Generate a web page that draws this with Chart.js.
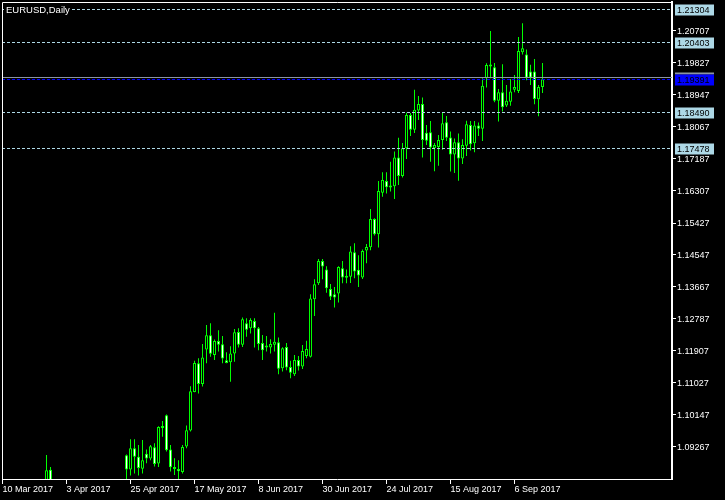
<!DOCTYPE html>
<html>
<head>
<meta charset="utf-8">
<title>EURUSD,Daily</title>
<script src="https://cdn.jsdelivr.net/npm/chart.js@4.4.1/dist/chart.umd.min.js"></script>
<style>
  html, body { margin: 0; padding: 0; background: #000; }
  #grafico { display: block; }
</style>
</head>
<body>
<canvas id="grafico" width="725" height="500"></canvas>
<script>
const simbolo = 'EURUSD,Daily';

// barras diárias, índice 0 = 10 Mar 2017 (null = fora da escala visível)
const abertura = [
  null, null, null, null, null, null, null, null, null, null, null,
  1.0810, 1.0864,
  null, null, null, null, null, null, null, null, null, null, null, null, null, null, null, null, null, null,
  1.0904, 1.0865, 1.0923, 1.0900, 1.0867,
  1.0908, 1.0895, 1.0926, 1.0881, 1.0984,
  1.1014, 1.0920, 1.0871, 1.0866, 1.0858,
  1.0928, 1.0972, 1.1078, 1.1157, 1.1100,
  1.1195, 1.1234, 1.1180, 1.1218, 1.1209,
  1.1165, 1.1160, 1.1184, 1.1243, 1.1208,
  1.1267, 1.1253, 1.1273, 1.1253, 1.1213,
  1.1204, 1.1200, 1.1208, 1.1215, 1.1143,
  1.1202, 1.1147, 1.1127, 1.1166, 1.1148,
  1.1177, 1.1175, 1.1333, 1.1377, 1.1438,
  1.1415, 1.1361, 1.1347, 1.1349, 1.1418,
  1.1397, 1.1395, 1.1462, 1.1414, 1.1393,
  1.1467, 1.1476, 1.1554, 1.1512, 1.1626,
  1.1658, 1.1643, 1.1644, 1.1723, 1.1672,
  1.1748, 1.1840, 1.1799, 1.1852, 1.1870,
  1.1791, 1.1792, 1.1748, 1.1752, 1.1771,
  1.1820, 1.1778, 1.1731, 1.1765, 1.1720,
  1.1755, 1.1812, 1.1762, 1.1811, 1.1802,
  1.1941, 1.1978, 1.1971, 1.1879, 1.1902,
  1.1866, 1.1876, 1.1909, 1.1906, 1.2012,
  1.2006, 1.1959, 1.1959, 1.1883, 1.1917
];
const maxima = [
  null, null, null, null, null, null, null, null, null, null, null,
  1.0905, 1.0872,
  null, null, null, null, null, null, null, null, null, null, null, null, null, null, null, null, null, null,
  1.0906, 1.0948, 1.0948, 1.0932, 1.0946,
  1.0920, 1.0932, 1.0937, 1.0984, 1.0998,
  1.1016, 1.0932, 1.0896, 1.0890, 1.0932,
  1.0986, 1.1094, 1.1164, 1.1171, 1.1210,
  1.1262, 1.1267, 1.1222, 1.1248, 1.1232,
  1.1187, 1.1204, 1.1251, 1.1253, 1.1283,
  1.1281, 1.1281, 1.1281, 1.1257, 1.1235,
  1.1232, 1.1223, 1.1296, 1.1228, 1.1201,
  1.1213, 1.1164, 1.1180, 1.1177, 1.1207,
  1.1219, 1.1347, 1.1388, 1.1444, 1.1444,
  1.1424, 1.1375, 1.1367, 1.1424, 1.1438,
  1.1415, 1.1479, 1.1487, 1.1454, 1.1470,
  1.1485, 1.1581, 1.1556, 1.1658, 1.1682,
  1.1682, 1.1711, 1.1739, 1.1777, 1.1763,
  1.1846, 1.1845, 1.1909, 1.1892, 1.1888,
  1.1812, 1.1823, 1.1763, 1.1785, 1.1846,
  1.1837, 1.1794, 1.1775, 1.1789, 1.1773,
  1.1824, 1.1823, 1.1823, 1.1819, 1.1941,
  1.1982, 1.2071, 1.1983, 1.1911, 1.1979,
  1.1922, 1.1939, 1.1950, 1.2054, 1.2092,
  1.2020, 1.1978, 1.1994, 1.1922, 1.1983
];
const minima = [
  null, null, null, null, null, null, null, null, null, null, null,
  1.0795, 1.0805,
  null, null, null, null, null, null, null, null, null, null, null, null, null, null, null, null, null, null,
  1.0822, 1.0848, 1.0854, 1.0848, 1.0854,
  1.0882, 1.0890, 1.0873, 1.0872, 1.0955,
  1.0914, 1.0859, 1.0850, 1.0838, 1.0854,
  1.0923, 1.0969, 1.1077, 1.1074, 1.1093,
  1.1157, 1.1175, 1.1166, 1.1189, 1.1157,
  1.1157, 1.1106, 1.1161, 1.1200, 1.1202,
  1.1230, 1.1239, 1.1200, 1.1193, 1.1166,
  1.1189, 1.1184, 1.1189, 1.1127, 1.1134,
  1.1138, 1.1116, 1.1122, 1.1137, 1.1141,
  1.1171, 1.1173, 1.1287, 1.1372, 1.1388,
  1.1351, 1.1331, 1.1310, 1.1324, 1.1377,
  1.1377, 1.1378, 1.1391, 1.1367, 1.1389,
  1.1432, 1.1468, 1.1508, 1.1475, 1.1615,
  1.1624, 1.1629, 1.1609, 1.1647, 1.1668,
  1.1719, 1.1782, 1.1790, 1.1826, 1.1723,
  1.1757, 1.1711, 1.1685, 1.1700, 1.1744,
  1.1768, 1.1684, 1.1680, 1.1659, 1.1705,
  1.1727, 1.1742, 1.1737, 1.1782, 1.1768,
  1.1915, 1.1941, 1.1875, 1.1822, 1.1849,
  1.1862, 1.1865, 1.1902, 1.1900, 1.2006,
  1.1935, 1.1922, 1.1869, 1.1836, 1.1900
];
const fechamento = [
  null, null, null, null, null, null, null, null, null, null, null,
  1.0863, 1.0818,
  null, null, null, null, null, null, null, null, null, null, null, null, null, null, null, null, null, null,
  1.0865, 1.0923, 1.0900, 1.0869, 1.0890,
  1.0895, 1.0929, 1.0880, 1.0982, 1.0979,
  1.0918, 1.0871, 1.0866, 1.0860, 1.0927,
  1.0973, 1.1080, 1.1158, 1.1100, 1.1173,
  1.1234, 1.1183, 1.1218, 1.1208, 1.1170,
  1.1158, 1.1184, 1.1242, 1.1208, 1.1278,
  1.1249, 1.1276, 1.1253, 1.1210, 1.1193,
  1.1200, 1.1210, 1.1216, 1.1142, 1.1198,
  1.1145, 1.1131, 1.1166, 1.1148, 1.1191,
  1.1196, 1.1335, 1.1374, 1.1438, 1.1423,
  1.1363, 1.1340, 1.1338, 1.1422, 1.1393,
  1.1392, 1.1464, 1.1409, 1.1398, 1.1466,
  1.1477, 1.1554, 1.1512, 1.1631, 1.1661,
  1.1641, 1.1640, 1.1723, 1.1672, 1.1748,
  1.1840, 1.1799, 1.1854, 1.1870, 1.1771,
  1.1769, 1.1750, 1.1757, 1.1771, 1.1817,
  1.1777, 1.1731, 1.1765, 1.1720, 1.1757,
  1.1814, 1.1759, 1.1811, 1.1802, 1.1920,
  1.1977, 1.1973, 1.1879, 1.1902, 1.1861,
  1.1879, 1.1904, 1.1917, 1.2016, 1.2023,
  1.1942, 1.1942, 1.1884, 1.1917, 1.1938
];

// eixo de tempo: índice da barra e rótulo
const marcasX = [0, 16, 32, 48, 64, 80, 96, 112, 128];
const rotulosX = ['10 Mar 2017', '3 Apr 2017', '25 Apr 2017', '17 May 2017', '8 Jun 2017',
  '30 Jun 2017', '24 Jul 2017', '15 Aug 2017', '6 Sep 2017'];

// eixo de preço
const marcasY = [1.09267, 1.10147, 1.11027, 1.11907, 1.12787, 1.13667, 1.14547,
  1.15427, 1.16307, 1.17187, 1.18067, 1.18947, 1.19827, 1.20707];

// linhas horizontais
const niveis = [1.21304, 1.20403, 1.18490, 1.17478];
const linhaAzul = 1.19391;
const precoBid = 1.19435;

const VERDE = '#00FF00';
const fonte = { family: 'Liberation Sans', size: 9 };

function montarDados() {
  const pavios = [], corpos = [], cores = [];
  abertura.forEach((a, i) => {
    if (a === null) return;
    pavios.push({ x: i, y: [minima[i], maxima[i]] });
    corpos.push({ x: i, y: [a, fechamento[i]] });
    cores.push(fechamento[i] < a ? '#FFFFFF' : '#000000');
  });
  return { pavios, corpos, cores };
}

function linhaH(ctx, area, y) {
  ctx.beginPath();
  ctx.moveTo(area.left, y);
  ctx.lineTo(area.right, y);
  ctx.stroke();
}

function caixaPreco(ctx, y, texto, fundo) {
  ctx.fillStyle = fundo;
  ctx.fillRect(675, y - 5, 39, 11);
  ctx.fillStyle = '#000000';
  ctx.fillText(texto, 677, y + 1);
}

const decoracao = {
  id: 'decoracao',
  afterDatasetsDraw(chart) {
    const { ctx, chartArea: a, scales: { y } } = chart;
    const py = v => Math.round(y.getPixelForValue(v)) + 0.5;
    ctx.save();
    ctx.lineWidth = 1;

    ctx.setLineDash([3, 2]);
    ctx.strokeStyle = '#ADD8E6';
    niveis.forEach(v => linhaH(ctx, a, py(v)));

    ctx.setLineDash([]);
    ctx.strokeStyle = '#8C94A0';
    linhaH(ctx, a, py(precoBid));

    ctx.setLineDash([3, 2]);
    ctx.strokeStyle = '#0000FF';
    linhaH(ctx, a, py(linhaAzul));

    // moldura
    ctx.setLineDash([]);
    ctx.strokeStyle = '#FFFFFF';
    ctx.beginPath();
    ctx.moveTo(2.5, a.bottom);
    ctx.lineTo(2.5, 2.5);
    ctx.lineTo(a.right, 2.5);
    ctx.stroke();

    // nome do gráfico
    ctx.font = '9.5px "Liberation Sans"';
    ctx.textBaseline = 'middle';
    ctx.fillStyle = '#000000';
    ctx.fillRect(4, 4, ctx.measureText(simbolo).width + 4, 12);
    ctx.fillStyle = '#FFFFFF';
    ctx.fillText(simbolo, 6, 10.5);
    ctx.restore();
  },
  afterDraw(chart) {
    const { ctx, scales: { y } } = chart;
    const py = v => Math.round(y.getPixelForValue(v)) + 0.5;
    ctx.save();
    ctx.font = '9px "Liberation Sans"';
    ctx.textBaseline = 'middle';
    niveis.forEach(v => caixaPreco(ctx, py(v), v.toFixed(5), '#ADD8E6'));
    const yb = py(linhaAzul);
    ctx.fillStyle = '#8C94A0';
    ctx.fillRect(675, yb - 7, 39, 2);
    caixaPreco(ctx, yb, linhaAzul.toFixed(5), '#0000FF');
    ctx.restore();
  }
};

const { pavios, corpos, cores } = montarDados();

new Chart(document.getElementById('grafico'), {
  type: 'bar',
  data: {
    datasets: [
      {
        label: 'corpo', data: corpos, order: 0, grouped: false,
        barThickness: 3, borderWidth: 1, borderColor: VERDE, backgroundColor: cores,
        borderSkipped: false, inflateAmount: 0, minBarLength: 2, clip: 0
      },
      {
        label: 'pavio', data: pavios, order: 1, grouped: false,
        barThickness: 1, borderWidth: 0, backgroundColor: VERDE,
        inflateAmount: 0, clip: 0
      }
    ]
  },
  options: {
    responsive: false,
    animation: false,
    devicePixelRatio: 1,
    layout: { padding: { left: 2, top: 2, right: 0, bottom: 0 } },
    plugins: { legend: { display: false }, tooltip: { enabled: false } },
    scales: {
      x: {
        type: 'linear', min: -0.125, max: 167.375, offset: false,
        afterBuildTicks: s => { s.ticks = marcasX.map(v => ({ value: v })); },
        afterFit: s => { s.height = 21; s.paddingLeft = 0; s.paddingRight = 0; },
        grid: { drawOnChartArea: false, drawTicks: true, tickLength: 5, color: '#FFFFFF', offset: false },
        border: { display: true, color: '#FFFFFF', width: 1 },
        ticks: {
          color: '#FFFFFF', align: 'start', padding: 0, autoSkip: false,
          maxRotation: 0, minRotation: 0, font: fonte,
          callback: (v, i) => rotulosX[i]
        }
      },
      y: {
        type: 'linear', position: 'right', min: 1.08387, max: 1.215045,
        afterBuildTicks: s => { s.ticks = marcasY.map(v => ({ value: v })); },
        afterFit: s => { s.width = 53; s.paddingTop = 0; s.paddingBottom = 0; },
        grid: { drawOnChartArea: false, drawTicks: true, tickLength: 4, color: '#FFFFFF' },
        border: { display: true, color: '#FFFFFF', width: 2 },
        ticks: {
          color: '#FFFFFF', padding: 1, autoSkip: false, font: fonte, labelOffset: 1,
          callback: v => v.toFixed(5)
        }
      }
    }
  },
  plugins: [decoracao]
});
</script>
</body>
</html>
